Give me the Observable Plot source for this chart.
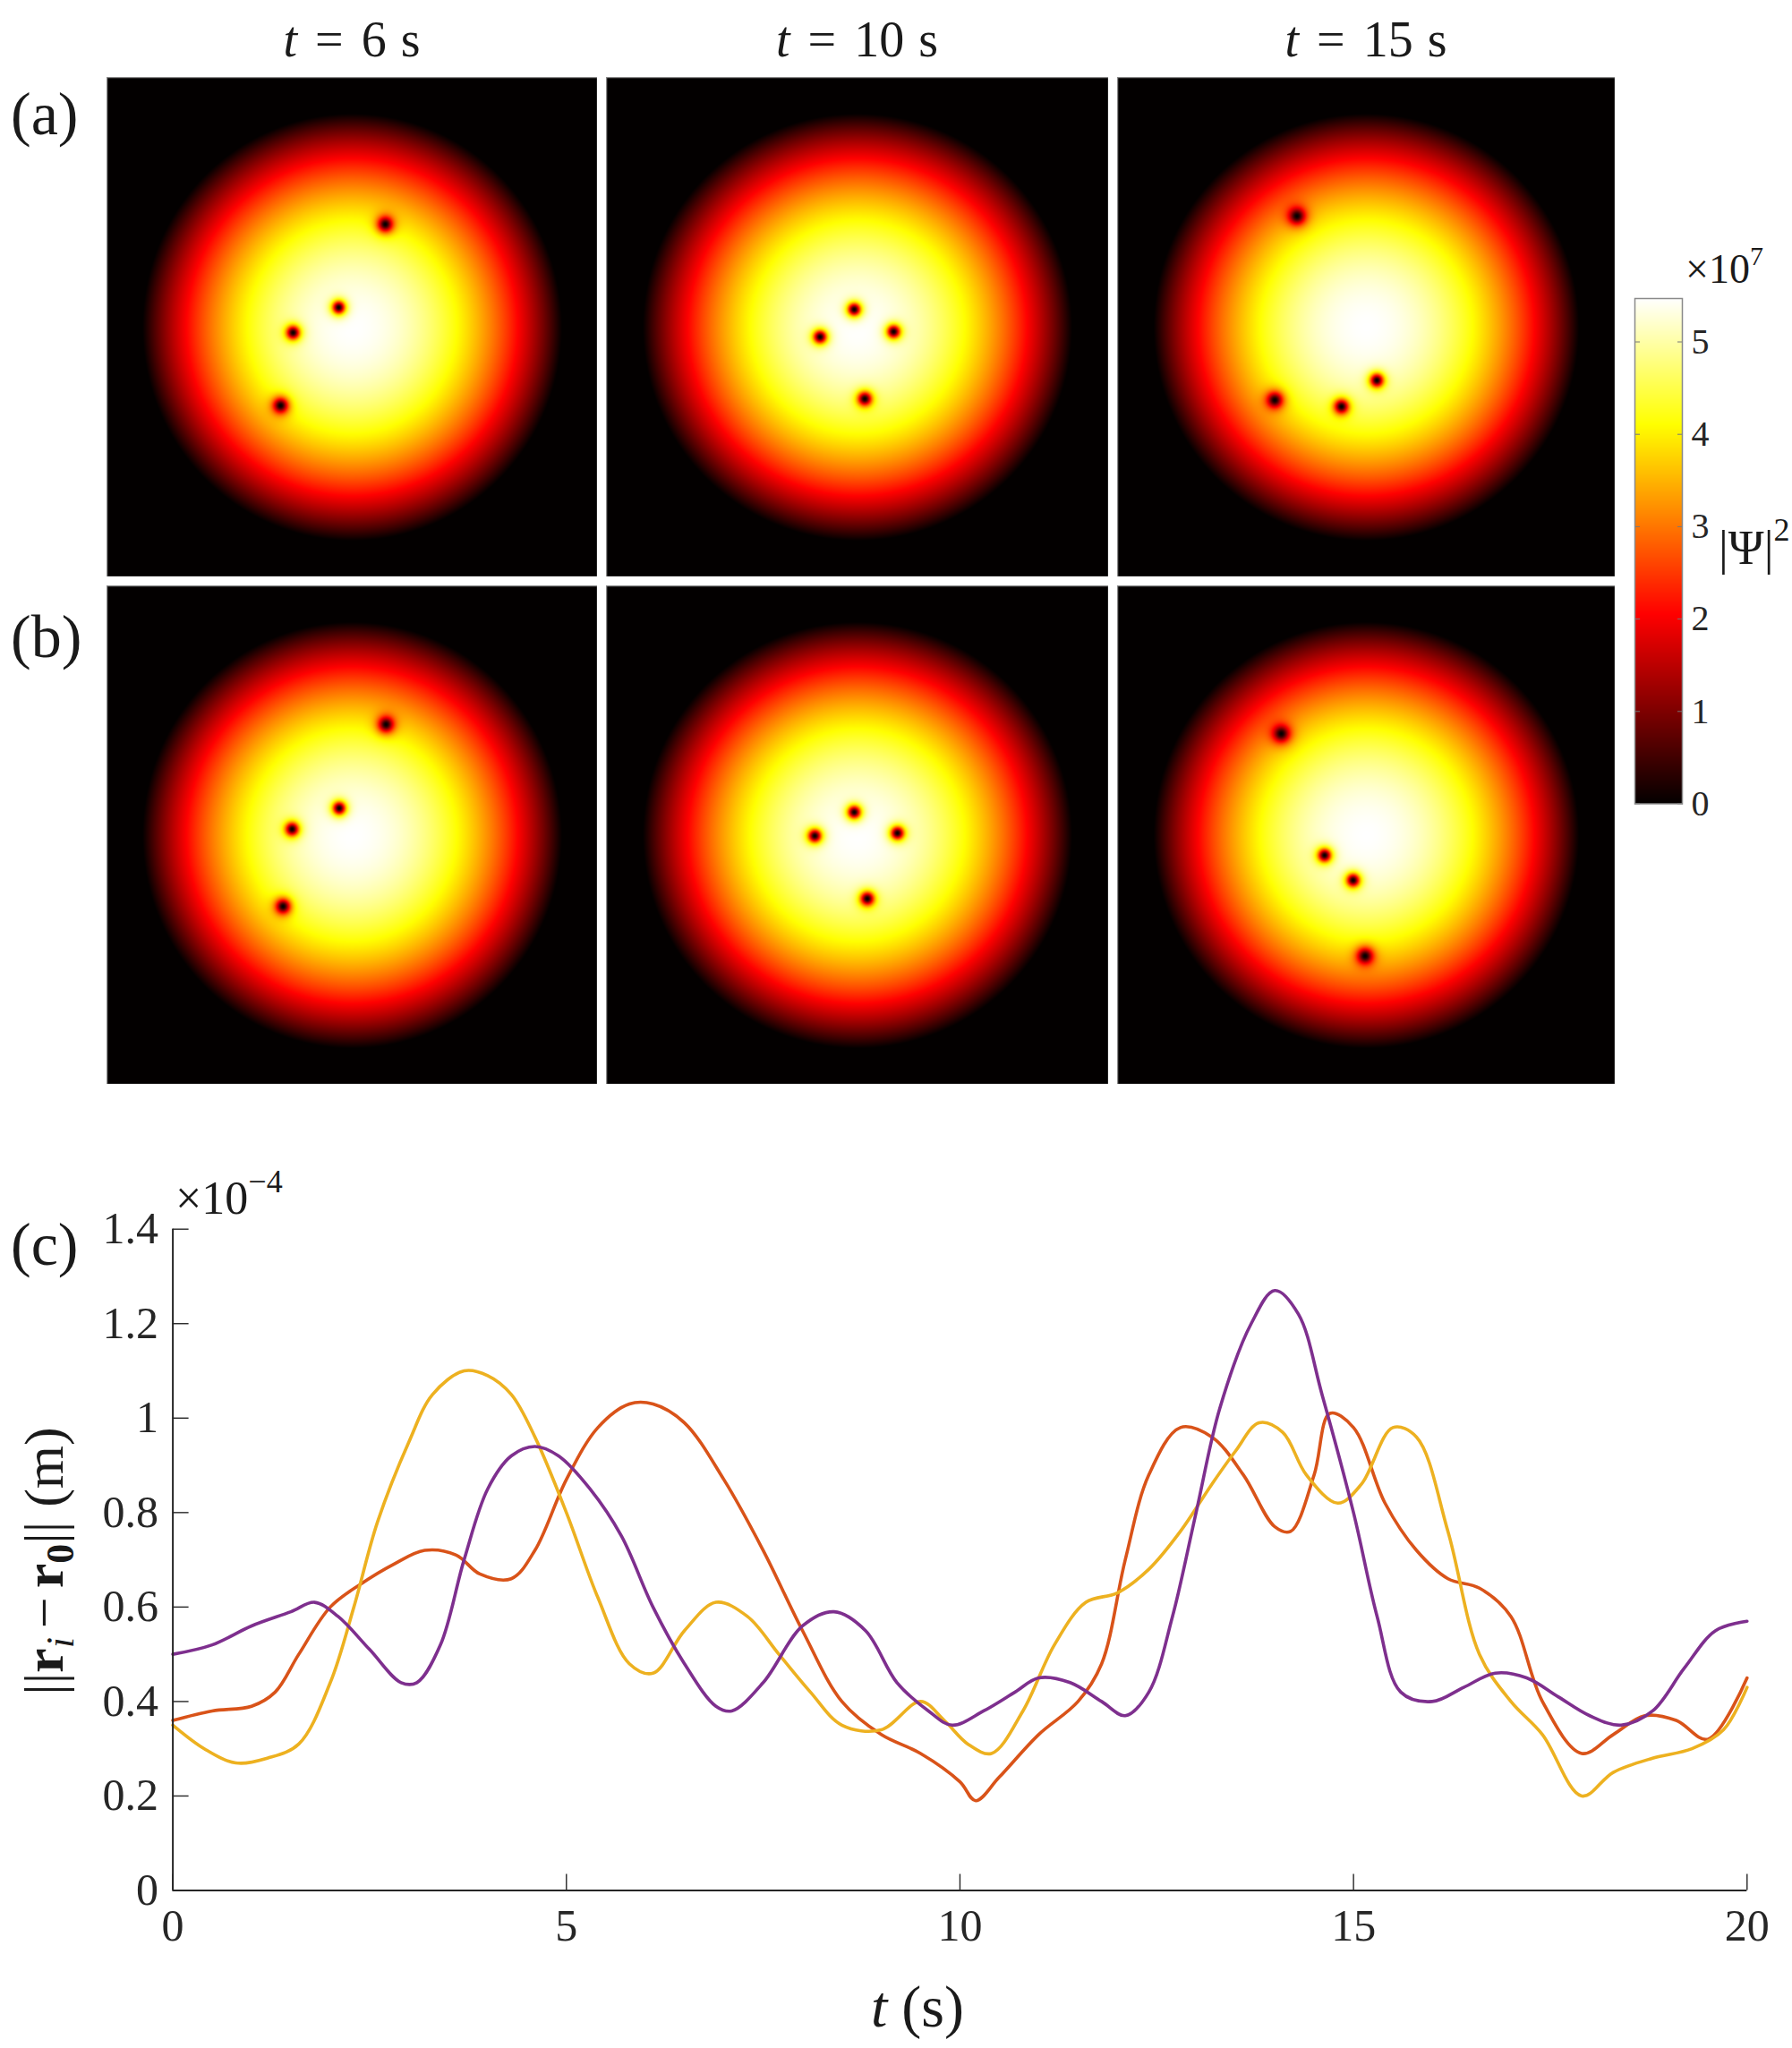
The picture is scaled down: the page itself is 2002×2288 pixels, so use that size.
<!DOCTYPE html>
<html><head><meta charset="utf-8">
<script src="https://cdn.jsdelivr.net/npm/d3@7"></script>
<script src="https://cdn.jsdelivr.net/npm/@observablehq/plot@0.6"></script>
<style>
body{margin:0;background:#fff;}
#root{position:relative;width:2002px;height:2288px;overflow:hidden;background:#fff;}
#root svg{position:absolute;}
</style></head><body><div id="root"></div>
<script>
// ---------- DATA ----------
const timeLabels = ["6", "10", "15"];
const rowLabels = ["(a)", "(b)"];
// vortex positions (normalised panel coordinates, x right, y up), one list per panel
const rowA_vx = [[0.135, -0.055, -0.241, -0.292], [-0.013, -0.149, 0.144, 0.029], [-0.279, 0.042, -0.368, -0.100]];
const rowA_vy = [[0.412, 0.079, -0.022, -0.314], [0.071, -0.039, -0.018, -0.287], [0.445, -0.213, -0.292, -0.318]];
const rowB_vx = [[0.138, -0.053, -0.245, -0.282], [-0.013, -0.170, 0.159, 0.039], [-0.342, -0.168, -0.053, -0.005]];
const rowB_vy = [[0.444, 0.108, 0.024, -0.286], [0.092, -0.003, 0.008, -0.255], [0.407, -0.081, -0.181, -0.485]];
const cloudRadius = 0.855;      // condensate radius (normalised)
const peakDensity = 5.47;       // x 1e7
const healing = 0.025;          // vortex core size (normalised)
const cbMax = 5.47;             // colour bar maximum, x 1e7
const cbTicks = [0, 1, 2, 3, 4, 5];

// panel (c): ||r_i - r_0|| (x 1e-4 m) vs t (s)
const tOrange = [0,0.5,1,1.3,1.6,2,2.4,2.8,3.2,3.6,3.9,4.3,4.6,5,5.4,5.8,6.1,6.5,7,7.5,8,8.5,9,9.5,10,10.2,10.5,11,11.5,11.8,12.1,12.4,12.8,13.2,13.6,14,14.2,14.5,14.7,15,15.4,15.8,16.2,16.6,17,17.4,17.9,18.3,18.7,19.1,19.5,20];
const orange  = [0.36,0.38,0.39,0.42,0.50,0.60,0.65,0.69,0.72,0.71,0.67,0.66,0.72,0.87,0.98,1.03,1.03,0.99,0.87,0.72,0.55,0.40,0.33,0.29,0.23,0.19,0.24,0.33,0.40,0.48,0.70,0.88,0.98,0.96,0.88,0.77,0.76,0.88,1.01,0.98,0.82,0.72,0.66,0.64,0.58,0.40,0.29,0.33,0.37,0.36,0.32,0.45];
const tYellow = [0,0.4,0.8,1.2,1.6,2,2.3,2.6,3,3.3,3.7,4,4.3,4.6,5,5.4,5.8,6.1,6.5,6.9,7.3,7.7,8.1,8.5,9,9.5,9.8,10.1,10.4,10.8,11.2,11.6,12,12.4,12.8,13.2,13.5,13.8,14.1,14.4,14.8,15.1,15.5,15.8,16.2,16.6,17,17.4,17.9,18.3,18.8,19.3,19.7,20];
const yellow  = [0.35,0.30,0.27,0.28,0.31,0.44,0.60,0.78,0.95,1.05,1.10,1.09,1.05,0.96,0.80,0.62,0.48,0.46,0.55,0.61,0.58,0.50,0.42,0.35,0.34,0.40,0.36,0.31,0.29,0.38,0.52,0.61,0.63,0.68,0.76,0.86,0.93,0.99,0.97,0.88,0.82,0.86,0.98,0.96,0.76,0.50,0.40,0.33,0.20,0.25,0.28,0.30,0.34,0.43];
const tPurple = [0,0.5,1,1.5,1.8,2.1,2.5,2.9,3.1,3.4,3.7,4,4.3,4.6,4.9,5.3,5.7,6.1,6.5,6.9,7.1,7.5,8,8.4,8.8,9.2,9.6,9.9,10.3,10.7,11,11.4,11.8,12.1,12.4,12.7,13,13.3,13.7,14,14.3,14.6,15,15.3,15.6,16,16.4,16.8,17.2,17.6,18,18.4,18.8,19.2,19.6,20];
const purple  = [0.50,0.52,0.56,0.59,0.61,0.58,0.51,0.44,0.44,0.52,0.70,0.85,0.92,0.94,0.92,0.85,0.75,0.60,0.48,0.39,0.38,0.44,0.56,0.59,0.55,0.44,0.38,0.35,0.38,0.42,0.45,0.44,0.40,0.37,0.42,0.58,0.80,1.02,1.20,1.27,1.22,1.05,0.80,0.58,0.42,0.40,0.43,0.46,0.45,0.41,0.37,0.35,0.38,0.47,0.55,0.57];
const xTicks = [0, 5, 10, 15, 20];
const yTicks = [0, 0.2, 0.4, 0.6, 0.8, 1, 1.2, 1.4];
const seriesColors = {orange: "#D95319", yellow: "#EDB120", purple: "#7E2F8E"};

// ---------- STYLE / LAYOUT ----------
const FONT = "'Liberation Serif', 'DejaVu Serif', serif";
const INK = "#262626";
const colX = [[119, 667], [677, 1238], [1248, 1804]];
const rowY = [[86, 644], [654, 1211]];
const hot = {
  type: "linear",
  domain: [0, 0.375 * cbMax, 0.75 * cbMax, cbMax],
  range: ["#030000", "#ff0000", "#ffff00", "#ffffff"],
  interpolate: "rgb",
  clamp: true
};

const root = document.getElementById("root");
function place(el, left, top) { el.style.left = left + "px"; el.style.top = top + "px"; root.appendChild(el); }

function density(x, y, vx, vy) {
  const r2 = x * x + y * y;
  let n = peakDensity * (1 - r2 / (cloudRadius * cloudRadius));
  if (n <= 0) return 0;
  for (let k = 0; k < vx.length; k++) {
    const rv2 = vx[k] * vx[k] + vy[k] * vy[k];
    const rel = Math.max(1 - rv2 / (cloudRadius * cloudRadius), 0.05);
    const xi = healing / Math.sqrt(rel);
    const dx = x - vx[k], dy = y - vy[k];
    const th = Math.tanh(Math.sqrt(dx * dx + dy * dy) / xi);
    n *= th * th;
  }
  return n;
}

// ---------- PANELS (a) and (b) ----------
const rowsVX = [rowA_vx, rowB_vx], rowsVY = [rowA_vy, rowB_vy];
for (let r = 0; r < 2; r++) {
  for (let c = 0; c < 3; c++) {
    const [x0, x1] = colX[c], [y0, y1] = rowY[r];
    const vx = rowsVX[r][c], vy = rowsVY[r][c];
    const p = Plot.plot({
      width: x1 - x0, height: y1 - y0, margin: 0,
      x: {domain: [-1, 1], axis: null},
      y: {domain: [-1, 1], axis: null},
      color: hot,
      style: {background: "#000"},
      marks: [
        Plot.raster({fill: (x, y) => density(x, y, vx, vy), x1: -1, x2: 1, y1: -1, y2: 1, pixelSize: 1}),
        Plot.frame({stroke: "#8a8a8a", strokeWidth: 1.5})
      ]
    });
    place(p, x0, y0);
  }
}

// ---------- COLOUR BAR ----------
const cbLeft = 1826, cbRight = 1879, cbTop = 333, cbBottom = 897.5;
const cbSvgLeft = 1818, cbSvgTop = 320, cbW = 184, cbH = 600;
const cb = Plot.plot({
  width: cbW, height: cbH,
  marginLeft: cbLeft - cbSvgLeft, marginRight: cbSvgLeft + cbW - cbRight,
  marginTop: cbTop - cbSvgTop, marginBottom: cbSvgTop + cbH - cbBottom,
  x: {domain: [0, 1], axis: null},
  y: {domain: [0, cbMax]},
  color: hot,
  style: {fontFamily: FONT, color: INK, background: "transparent"},
  marks: [
    Plot.raster({fill: (x, y) => y, x1: 0, x2: 1, y1: 0, y2: cbMax, pixelSize: 1}),
    Plot.axisY({anchor: "right", ticks: cbTicks, tickSize: -6, tickPadding: 16, label: null, fontSize: 40, stroke: "#777", tickFormat: d => String(d)}),
    Plot.axisY({anchor: "left", ticks: cbTicks, tickSize: -6, label: null, tickFormat: () => "", stroke: "#777"}),
    Plot.frame({stroke: "#8a8a8a", strokeWidth: 1.5})
  ]
});
place(cb, cbSvgLeft, cbSvgTop);

// ---------- PANEL (c) ----------
const lcTop = 1290, lcH = 998, lcW = 2002;
const axL = 192.6, axR = 1951.3, axT = 1372.7, axB = 2111.5;
const toRows = (ts, vs) => ts.map((t, i) => ({t, v: vs[i]}));
const lc = Plot.plot({
  width: lcW, height: lcH,
  marginLeft: axL, marginRight: lcW - axR, marginTop: axT - lcTop, marginBottom: lcTop + lcH - axB,
  x: {domain: [0, 20]},
  y: {domain: [0, 1.4]},
  style: {fontFamily: FONT, color: INK, background: "transparent", fontSize: "50px"},
  marks: [
    Plot.line(toRows(tOrange, orange), {x: "t", y: "v", stroke: seriesColors.orange, strokeWidth: 3.6, curve: "catmull-rom"}),
    Plot.line(toRows(tYellow, yellow), {x: "t", y: "v", stroke: seriesColors.yellow, strokeWidth: 3.6, curve: "catmull-rom"}),
    Plot.line(toRows(tPurple, purple), {x: "t", y: "v", stroke: seriesColors.purple, strokeWidth: 3.6, curve: "catmull-rom"}),
    Plot.axisX({ticks: xTicks, tickSize: -18, tickPadding: 38, label: null, fontSize: 50, stroke: INK, strokeWidth: 1.4}),
    Plot.axisY({ticks: yTicks, tickSize: -18, tickPadding: 34, label: null, fontSize: 50, stroke: INK, strokeWidth: 1.4, tickFormat: d => String(d)}),
    Plot.ruleX([0], {stroke: INK, strokeWidth: 2}),
    Plot.ruleY([0], {stroke: INK, strokeWidth: 2})
  ]
});
place(lc, 0, lcTop);

// ---------- TEXT OVERLAY ----------
const ov = d3.create("svg").attr("width", 2002).attr("height", 2288)
  .style("font-family", FONT).style("fill", "#1a1a1a").style("pointer-events", "none");
// column titles
timeLabels.forEach((lab, c) => {
  const cx = (colX[c][0] + colX[c][1]) / 2;
  const t = ov.append("text").attr("x", cx).attr("y", 63).attr("text-anchor", "middle").attr("font-size", 56);
  t.append("tspan").attr("font-style", "italic").text("t");
  t.append("tspan").attr("dx", 20).text("=");
  t.append("tspan").attr("dx", 20).text(lab);
  t.append("tspan").attr("dx", 16).text("s");
});
// row labels
[[rowLabels[0], 150], [rowLabels[1], 734], ["(c)", 1413]].forEach(([s, y]) => {
  ov.append("text").attr("x", 12).attr("y", y).attr("font-size", 68).text(s);
});
// colour-bar multiplier and label
{
  const t = ov.append("text").attr("x", 1883).attr("y", 316).attr("font-size", 46);
  t.append("tspan").text("×10");
  t.append("tspan").attr("font-size", 30).attr("dy", -20).text("7");
  const u = ov.append("text").attr("x", 1920).attr("y", 630).attr("font-size", 54);
  u.append("tspan").text("|Ψ|");
  u.append("tspan").attr("font-size", 36).attr("dy", -26).text("2");
}
// chart multiplier
{
  const t = ov.append("text").attr("x", 196).attr("y", 1356).attr("font-size", 52);
  t.append("tspan").text("×10");
  t.append("tspan").attr("font-size", 36).attr("dy", -24).text("−4");
}
// x label
{
  const t = ov.append("text").attr("x", 1025).attr("y", 2264).attr("text-anchor", "middle").attr("font-size", 66);
  t.append("tspan").attr("font-style", "italic").text("t");
  t.append("tspan").attr("dx", 16).text("(s)");
}
// y label
{
  const t = ov.append("text").attr("transform", "translate(70,1744) rotate(-90)").attr("text-anchor", "middle").attr("font-size", 62);
  t.append("tspan").text("||");
  t.append("tspan").attr("font-weight", "bold").text("r");
  t.append("tspan").attr("font-style", "italic").attr("font-size", 44).attr("dy", 12).text("i");
  t.append("tspan").attr("dy", -12).attr("dx", 10).text("−");
  t.append("tspan").attr("dx", 10).attr("font-weight", "bold").text("r");
  t.append("tspan").attr("font-size", 44).attr("font-weight", "bold").attr("dy", 12).text("0");
  t.append("tspan").attr("dy", -12).text("||");
  t.append("tspan").attr("dx", 16).text("(m)");
}
place(ov.node(), 0, 0);
</script></body></html>
